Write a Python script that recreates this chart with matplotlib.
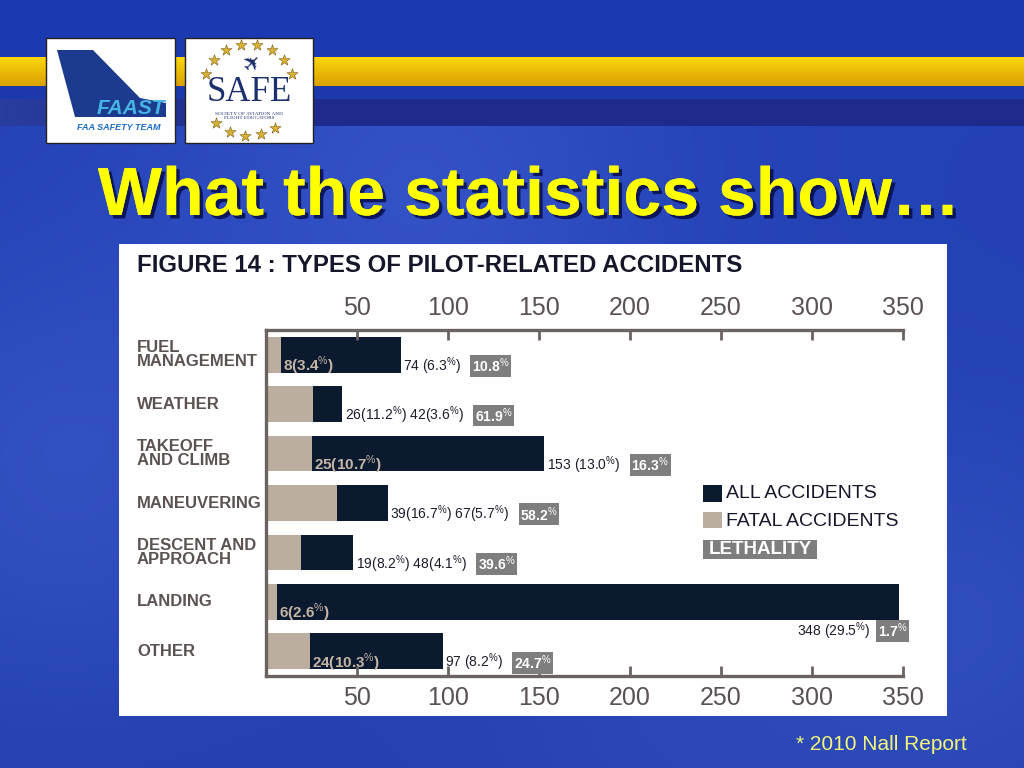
import numpy as np
import matplotlib.pyplot as plt
from matplotlib.patches import Rectangle, Polygon
from matplotlib import patheffects

plt.rcParams['font.family'] = ['Liberation Sans', 'DejaVu Sans']
plt.rcParams['mathtext.fontset'] = 'custom'
plt.rcParams['mathtext.rm'] = 'Liberation Sans'
plt.rcParams['mathtext.bf'] = 'Liberation Sans:bold'

# data (2010 Nall Report, figure 14)
categories = ['FUEL\nMANAGEMENT', 'WEATHER', 'TAKEOFF\nAND CLIMB', 'MANEUVERING',
              'DESCENT AND\nAPPROACH', 'LANDING', 'OTHER']
all_acc = [74, 42, 153, 67, 48, 348, 97]
all_pct = [6.3, 3.6, 13.0, 5.7, 4.1, 29.5, 8.2]
fatal_acc = [8, 26, 25, 39, 19, 6, 24]
fatal_pct = [3.4, 11.2, 10.7, 16.7, 8.2, 2.6, 10.3]
lethality = [10.8, 61.9, 16.3, 58.2, 39.6, 1.7, 24.7]
ticks = [50, 100, 150, 200, 250, 300, 350]

DARK = '#0c1a30'
TAN = '#bbad9f'
AXC = '#6b6262'
GREYBOX = '#7e7e7e'

fig = plt.figure(figsize=(10.24, 7.68), dpi=100)

# slide background, pixel coords
bg = fig.add_axes([0, 0, 1, 1])
bg.set_xlim(0, 1024)
bg.set_ylim(768, 0)
bg.axis('off')

H, W = 768, 1024
yy = np.arange(H)[:, None] * np.ones((1, W))
xx = np.ones((H, 1)) * np.arange(W)[None, :]
img = np.zeros((H, W, 3))
sky_top = np.array([0.14, 0.26, 0.72])
sky_bot = np.array([0.13, 0.25, 0.68])
t = (yy / H)[..., None]
img[:] = sky_top * (1 - t) + sky_bot * t
# soft light clouds
for cx, cy, s, a in [(420, 190, 170, 0.06), (60, 480, 160, 0.06), (980, 620, 140, 0.04), (700, 720, 200, 0.03)]:
    g = np.exp(-((xx - cx) ** 2 + (yy - cy) ** 2) / (2 * s ** 2))[..., None]
    img = img + a * g
# top bands
img[0:57] = [0.11, 0.23, 0.69]
ty = np.linspace(0, 1, 29)[:, None, None]
img[57:86] = np.array([0.98, 0.84, 0.05]) * (1 - ty) + np.array([0.86, 0.63, 0.0]) * ty
img[86:99] = [0.11, 0.22, 0.68]
fade = np.clip(np.arange(W) / 300.0, 0, 1)[None, :, None]
img[99:126] = np.array([0.16, 0.24, 0.62]) * (1 - fade) + np.array([0.12, 0.17, 0.55]) * fade
img = np.clip(img, 0, 1)
bg.imshow(img, extent=(0, 1024, 768, 0), aspect='auto', zorder=0)

# white chart panel
bg.add_patch(Rectangle((119, 244), 828, 472, facecolor='white', edgecolor='none', zorder=1))

# FAAST logo
bg.add_patch(Rectangle((46, 38), 129, 105, facecolor='white', edgecolor='#222222', lw=1, zorder=2))
bg.add_patch(Polygon([(57, 50), (93, 50), (140, 98), (166, 103), (166, 117), (75, 117)],
                     closed=True, facecolor='#1c3a8e', edgecolor='none', zorder=3))
bg.text(131, 109, 'FAAST', fontsize=15, fontweight='bold', fontstyle='italic', color='#45b4e4',
        ha='center', va='center', zorder=4)
bg.text(119, 127, 'FAA SAFETY TEAM', fontsize=6.5, fontweight='bold', fontstyle='italic',
        color='#1d6cc4', ha='center', va='center', zorder=4)

# SAFE logo
bg.add_patch(Rectangle((185, 38), 128, 105, facecolor='white', edgecolor='#222222', lw=1, zorder=2))
ang = np.deg2rad([100, 120, 140, 160, 225, 245, 265, 285, 305, 20, 40, 60, 80])
bg.scatter(249 + 46 * np.cos(ang), 90 - 46 * np.sin(ang), marker='*', s=70,
           color='#d9b233', edgecolor='#7a5a12', linewidth=0.4, zorder=4)
bg.text(249, 101, 'SAFE', fontsize=25, family='Liberation Serif', color='#1b2f6c',
        ha='center', va='baseline', zorder=4)
bg.text(253, 64, '\u2708', fontsize=16, family='DejaVu Sans', color='#1b2f6c', rotation=45,
        ha='center', va='center', zorder=4)
bg.text(249, 116, 'SOCIETY OF AVIATION AND\nFLIGHT EDUCATORS', fontsize=3.8,
        family='Liberation Serif', color='#1b2f6c', ha='center', va='center', linespacing=1.1, zorder=4)

# slide title and footnote
bg.text(529, 215, 'What the statistics show\u2026', fontsize=49, fontweight='bold', color='#ffff00',
        ha='center', va='baseline', zorder=5,
        path_effects=[patheffects.withSimplePatchShadow(offset=(2.5, -2.5), shadow_rgbFace='#000030', alpha=0.7),
                      patheffects.Normal()])
bg.text(967, 745, '* 2010 Nall Report', fontsize=15, color='#f4f47c', ha='right', va='center', zorder=5)

# chart heading
bg.text(137, 265, 'FIGURE 14 : TYPES OF PILOT-RELATED ACCIDENTS', fontsize=17.3, fontweight='bold',
        color='#16162a', ha='left', va='center', zorder=5)

# legend
bg.add_patch(Rectangle((703, 485), 19, 17, facecolor=DARK, edgecolor='none', zorder=5))
bg.text(726, 494, 'ALL ACCIDENTS', fontsize=14, color='#16162a', ha='left', va='center', zorder=5)
bg.add_patch(Rectangle((703, 512), 19, 16, facecolor=TAN, edgecolor='none', zorder=5))
bg.text(726, 521, 'FATAL ACCIDENTS', fontsize=14, color='#16162a', ha='left', va='center', zorder=5)
bg.add_patch(Rectangle((703, 540), 114, 19, facecolor=GREYBOX, edgecolor='none', zorder=5))
bg.text(760, 550, 'LETHALITY', fontsize=13.5, fontweight='bold', color='white', ha='center', va='center', zorder=6)

# bar chart
ax = fig.add_axes([266 / 1024, 1 - 676 / 768, 637 / 1024, 346 / 768])
ax.set_facecolor('none')
ypos = np.arange(len(categories))
ax.barh(ypos, all_acc, height=0.72, color=DARK, zorder=1.5)
ax.barh(ypos, fatal_acc, height=0.72, color=TAN, zorder=1.6)
ax.set_xlim(0, 350)
ax.set_ylim(6.5, -0.5)
ax.set_yticks([])
ax.set_xticks(ticks)
ax.tick_params(axis='x', top=True, labeltop=True, bottom=True, labelbottom=True, direction='in',
               length=7, width=2, color=AXC, labelsize=18, labelcolor='#5a5252', pad=7)
ax.spines['right'].set_visible(False)
for s in ['left', 'top', 'bottom']:
    ax.spines[s].set_color(AXC)
    ax.spines[s].set_linewidth(2.4)


def pct(v):
    return f'{v:.1f}' + r'$^{\%}$'


box_style = dict(boxstyle='square,pad=0.12', facecolor=GREYBOX, edgecolor='none')
for i, cat in enumerate(categories):
    a, f = all_acc[i], fatal_acc[i]
    ax.text(-0.2025, i, cat, transform=ax.get_yaxis_transform(), ha='left', va='center',
            fontsize=12, fontweight='bold', color='#5c5252', linespacing=0.9)
    inside = a - f > 40
    if inside:
        ax.text(f + 1.3, i + 0.23, f'{f}({pct(fatal_pct[i])})', fontsize=11, fontweight='bold',
                color='#c4b5a6', ha='left', va='center', zorder=3)
        after = f'{a} ({pct(all_pct[i])})'
    else:
        after = f'{f}({pct(fatal_pct[i])}) {a}({pct(all_pct[i])})'
    leth = pct(lethality[i])
    if a + 60 > 350:
        # no room past the bar end: put labels below it
        box = ax.annotate(leth, xy=(a, i + 0.59), xytext=(6, 0), textcoords='offset points',
                          ha='right', va='center', fontsize=10, fontweight='bold', color='white',
                          bbox=box_style, annotation_clip=False)
        ax.annotate(after, xy=(0, 0.5), xycoords=box, xytext=(-5, 0), textcoords='offset points',
                    ha='right', va='center', fontsize=10, color='#1c1c2a')
    else:
        txt = ax.text(a + 1.2, i + 0.23, after, fontsize=10, color='#1c1c2a', ha='left', va='center')
        ax.annotate(leth, xy=(1, 0.5), xycoords=txt, xytext=(8, 0), textcoords='offset points',
                    ha='left', va='center', fontsize=10, fontweight='bold', color='white',
                    bbox=box_style)

plt.savefig('out.png', dpi=100)
